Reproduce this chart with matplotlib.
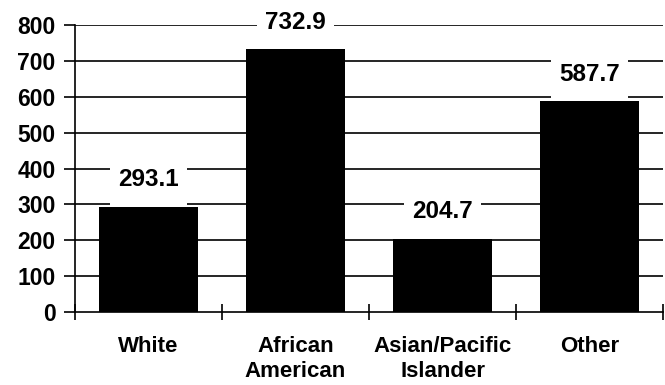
import matplotlib
matplotlib.use("Agg")
import matplotlib.pyplot as plt
from matplotlib.patches import Rectangle

categories = ["White", "African\nAmerican", "Asian/Pacific\nIslander", "Other"]
values = [293.1, 732.9, 204.7, 587.7]
value_labels = ["293.1", "732.9", "204.7", "587.7"]
yticks = [0, 100, 200, 300, 400, 500, 600, 700, 800]

plt.rcParams['font.family'] = ['Liberation Sans', 'DejaVu Sans']
plt.rcParams['font.weight'] = 'bold'

W, H = 665, 385
fig = plt.figure(figsize=(W / 100, H / 100), dpi=100)
ax = fig.add_axes([75 / W, 1 - 312 / H, (663 - 75) / W, (312 - 25) / H])

x = list(range(len(values)))
ax.set_xlim(-0.5, len(values) - 0.5)
ax.set_ylim(0, 800)

for yv in yticks[1:]:
    ax.axhline(yv, color='black', lw=1.2, zorder=1)

ax.bar(x, values, width=0.67, color='black', zorder=2)

px = 800 / 287.0  # data units per pixel
for xi, v, lab in zip(x, values, value_labels):
    ax.add_patch(Rectangle((xi - 0.26, v + 1 * px), 0.52, 40 * px,
                           facecolor='white', edgecolor='none', zorder=3,
                           clip_on=False))
    ax.text(xi, v + 27 * px, lab, ha='center', va='center', fontsize=17.5,
            fontweight='bold', zorder=4, clip_on=False)

ax.spines['top'].set_visible(False)
ax.spines['right'].set_visible(False)
for s in ('left', 'bottom'):
    ax.spines[s].set_linewidth(1.2)
    ax.spines[s].set_zorder(5)

ax.set_yticks(yticks)
ax.set_yticklabels([str(t) for t in yticks], fontsize=16.5, fontweight='bold')
ax.tick_params(axis='y', direction='out', length=8, width=1.2, pad=6)

ax.set_xticks([i - 0.5 for i in range(len(values) + 1)])
ax.set_xticklabels([])
ax.tick_params(axis='x', which='major', direction='inout', length=12, width=1.2)
ax.set_xticks(x, minor=True)
ax.set_xticklabels(categories, minor=True, fontsize=16, fontweight='bold',
                   linespacing=1.25)
ax.tick_params(axis='x', which='minor', length=0, pad=17)

fig.savefig("out.png", dpi=100)
